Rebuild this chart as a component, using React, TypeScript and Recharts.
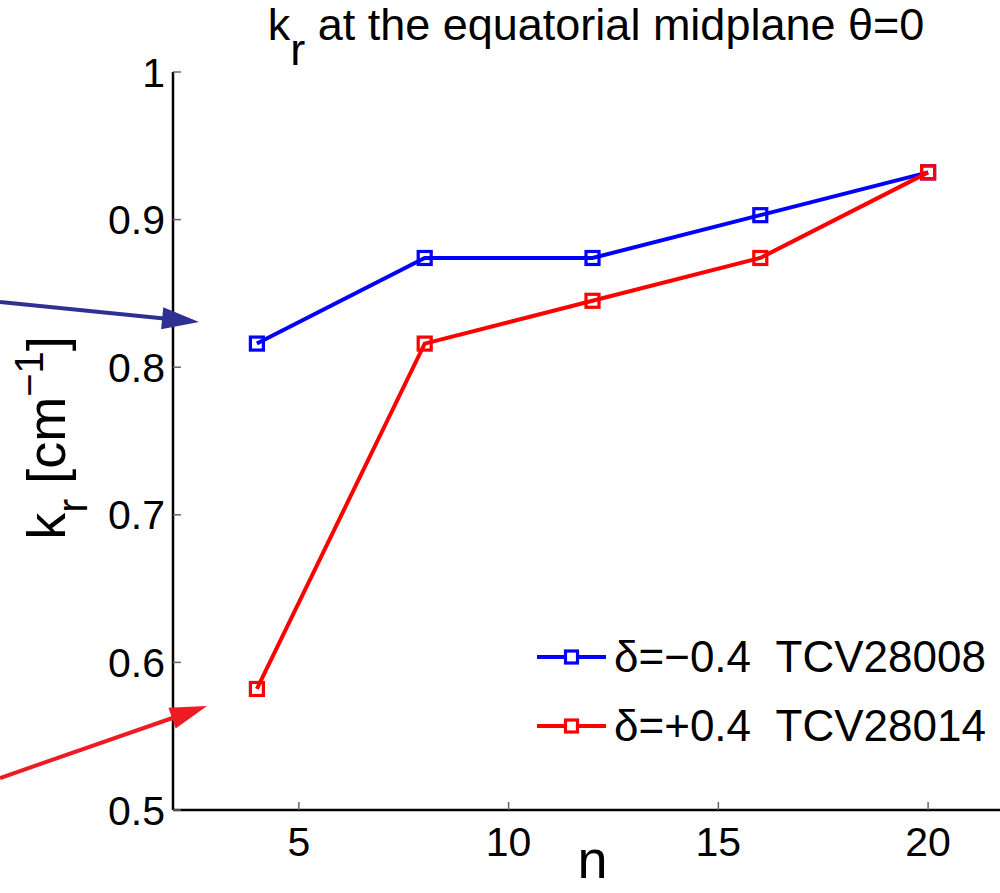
import { Legend, Line, LineChart, XAxis, YAxis } from "recharts";

const nValues = [4, 8, 12, 16, 20];
const krDeltaNeg = [0.816, 0.874, 0.874, 0.903, 0.932];
const krDeltaPos = [0.582, 0.816, 0.845, 0.874, 0.932];
const xTicks = [5, 10, 15, 20];
const yTicks = [0.5, 0.6, 0.7, 0.8, 0.9, 1];
const seriesNames = ["δ=−0.4  TCV28008", "δ=+0.4  TCV28014"];
const seriesColors = ["#0000ff", "#ff0000"];

const FONT = '"Liberation Sans", Arial, Helvetica, sans-serif';

const data = nValues.map((n, i) => ({ n, neg: krDeltaNeg[i], pos: krDeltaPos[i] }));

const squareDot = (color: string) => (props: any) => {
  const { cx, cy, index } = props;
  if (cx == null || cy == null) return <g key={index} />;
  return (
    <rect
      key={index}
      x={cx - 6.5}
      y={cy - 6.5}
      width={13}
      height={13}
      fill="none"
      stroke={color}
      strokeWidth={3.2}
    />
  );
};

const renderLegend = () => (
  <div style={{ fontFamily: FONT, fontSize: 44, color: "#000" }}>
    {seriesNames.map((name, i) => (
      <div
        key={name}
        style={{ display: "flex", alignItems: "center", height: 69, lineHeight: "69px", whiteSpace: "pre" }}
      >
        <svg width={69} height={20} style={{ marginRight: 8 }}>
          <line x1={0} x2={69} y1={10} y2={10} stroke={seriesColors[i]} strokeWidth={4} />
          <rect x={28.5} y={4} width={12} height={12} fill="#fff" stroke={seriesColors[i]} strokeWidth={3.2} />
        </svg>
        <span>{name}</span>
      </div>
    ))}
  </div>
);

const YLabel = () => (
  <text
    transform="rotate(-90, 65, 438)"
    x={65}
    y={438}
    textAnchor="middle"
    fontFamily={FONT}
    fontSize={54}
    fill="#000"
  >
    k
    <tspan dy={22} fontSize={42}>r</tspan>
    <tspan dy={-22}> [cm</tspan>
    <tspan dy={-22} fontSize={40}>−1</tspan>
    <tspan dy={22}>]</tspan>
  </text>
);

const XLabel = (props: any) => {
  const { viewBox } = props;
  const cx = viewBox.x + viewBox.width / 2;
  return (
    <text x={cx} y={878} textAnchor="middle" fontFamily={FONT} fontSize={54} fill="#000">
      n
    </text>
  );
};

function arrow(x0: number, y0: number, x1: number, y1: number, len: number, half: number) {
  const dx = x1 - x0;
  const dy = y1 - y0;
  const d = Math.hypot(dx, dy);
  const ux = dx / d;
  const uy = dy / d;
  const bx = x1 - ux * len;
  const by = y1 - uy * len;
  const pts = [
    [x1, y1],
    [bx - uy * half, by + ux * half],
    [bx + uy * half, by - ux * half],
  ]
    .map((p) => p.join(","))
    .join(" ");
  return { bx: bx + ux * 2, by: by + uy * 2, pts };
}

const blueArrow = arrow(0, 302, 199, 322, 37, 11);
const redArrow = arrow(0, 778, 207, 706, 37, 11);

export default function App() {
  return (
    <div
      style={{
        position: "absolute",
        left: 0,
        top: 0,
        width: 1000,
        height: 893,
        overflow: "hidden",
        background: "#fff",
      }}
    >
      <LineChart width={1020} height={893} data={data} margin={{ top: 72, right: 8, bottom: 0, left: 0 }}>
        <XAxis
          dataKey="n"
          type="number"
          domain={[2, 22]}
          ticks={xTicks}
          allowDataOverflow
          height={83}
          axisLine={{ stroke: "#000", strokeWidth: 2.5 }}
          tickLine={{ stroke: "#666", strokeWidth: 1.5 }}
          tickSize={-8}
          tickMargin={25}
          tick={{ fill: "#000", fontSize: 41, fontFamily: FONT }}
          label={<XLabel />}
        />
        <XAxis
          xAxisId="top"
          orientation="top"
          type="number"
          domain={[2, 22]}
          ticks={xTicks}
          height={0}
          axisLine={{ stroke: "#000", strokeWidth: 2.5 }}
          tickLine={{ stroke: "#666", strokeWidth: 1.5 }}
          tickSize={-8}
          tick={false}
        />
        <YAxis
          type="number"
          domain={[0.5, 1]}
          ticks={yTicks}
          allowDataOverflow
          width={173}
          axisLine={{ stroke: "#000", strokeWidth: 2.5 }}
          tickLine={{ stroke: "#666", strokeWidth: 1.5 }}
          tickSize={-8}
          tickMargin={16}
          tick={{ fill: "#000", fontSize: 41, fontFamily: FONT }}
          tickFormatter={(v: number) => (v === 1 ? "1" : v.toFixed(1))}
          label={<YLabel />}
        />
        <YAxis
          yAxisId="right"
          orientation="right"
          type="number"
          domain={[0.5, 1]}
          ticks={yTicks}
          width={0}
          axisLine={{ stroke: "#000", strokeWidth: 2.5 }}
          tickLine={{ stroke: "#666", strokeWidth: 1.5 }}
          tickSize={-8}
          tick={false}
        />
        <Legend
          layout="vertical"
          align="center"
          verticalAlign="middle"
          content={renderLegend}
          wrapperStyle={{ left: 537, top: 622, width: 460 }}
        />
        <Line
          dataKey="neg"
          name={seriesNames[0]}
          stroke={seriesColors[0]}
          strokeWidth={4}
          dot={squareDot(seriesColors[0])}
          isAnimationActive={false}
        />
        <Line
          dataKey="pos"
          name={seriesNames[1]}
          stroke={seriesColors[1]}
          strokeWidth={4}
          dot={squareDot(seriesColors[1])}
          isAnimationActive={false}
        />
      </LineChart>
      <svg
        width={1000}
        height={893}
        style={{ position: "absolute", left: 0, top: 0, pointerEvents: "none" }}
      >
        <text x={596} y={40} textAnchor="middle" fontFamily={FONT} fontSize={45} fill="#000">
          k
          <tspan dy={25}>r</tspan>
          <tspan dy={-25}> at the equatorial midplane θ=0</tspan>
        </text>
        <line x1={0} y1={302} x2={blueArrow.bx} y2={blueArrow.by} stroke="#2e3192" strokeWidth={4} />
        <polygon points={blueArrow.pts} fill="#2e3192" />
        <line x1={0} y1={778} x2={redArrow.bx} y2={redArrow.by} stroke="#ed1c24" strokeWidth={4} />
        <polygon points={redArrow.pts} fill="#ed1c24" />
      </svg>
    </div>
  );
}
